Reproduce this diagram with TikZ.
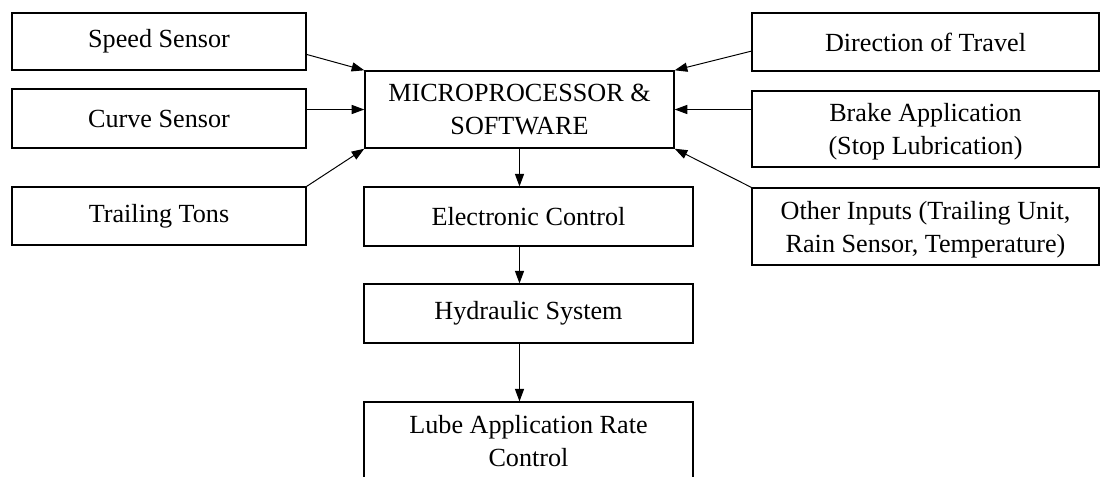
\documentclass[tikz,border=0pt]{standalone}
\usepackage{fontspec}
\setmainfont{Liberation Serif}
\usepackage{tikz}
\usetikzlibrary{positioning, arrows.meta, calc}

\begin{document}
\begin{tikzpicture}[
  x=0.025cm, y=-0.025cm,
  box/.style={draw=black, line width=0.8pt, align=center, inner sep=0pt, font=\fontsize{18.6}{23.5}\selectfont},
  twoline/.style={text depth=0pt},
  inbox/.style={box, minimum width=294*0.025cm},
  outbox/.style={box, minimum width=329*0.025cm},
  rbox/.style={box, minimum width=347*0.025cm},
  arr/.style={-{Triangle[length=9pt,width=6.5pt]}, line width=0.7pt, black}
]
  \useasboundingbox (0,0) rectangle (1106,476);

  \node[inbox, minimum height=57*0.025cm] (speed) at (159,41.5) {Speed Sensor};
  \node[inbox, minimum height=59*0.025cm] (curve) at (159,118.5) {Curve Sensor};
  \node[inbox, minimum height=58*0.025cm] (tons) at (159,216) {Trailing Tons};

  \node[box, twoline, line width=1pt, minimum width=309*0.025cm, minimum height=77*0.025cm] (micro) at (519.5,109.5) {MICROPROCESSOR \&\\SOFTWARE};
  \node[outbox, minimum height=59*0.025cm] (elec) at (528.5,216.5) {Electronic Control};
  \node[outbox, minimum height=59*0.025cm] (hydr) at (528.5,313.5) {Hydraulic System};
  \node[outbox, twoline, minimum height=78*0.025cm] (lube) at (528.5,441) {Lube Application Rate\\Control};

  \node[rbox, minimum height=58*0.025cm] (dir) at (925.5,42) {Direction of Travel};
  \node[rbox, twoline, minimum height=76*0.025cm] (brake) at (925.5,129) {Brake Application\\(Stop Lubrication)};
  \node[rbox, twoline, minimum height=77*0.025cm] (other) at (925.5,226.5) {Other Inputs (Trailing Unit,\\Rain Sensor, Temperature)};

  \draw[arr] (speed.-5) -- (micro.north west);
  \draw[arr] (micro.west -| curve.east) -- (micro.west);
  \draw[arr] (tons.north east) -- (micro.south west);
  \draw[arr] (dir.183) -- (micro.north east);
  \draw[arr] (micro.east -| brake.west) -- (micro.east);
  \draw[arr] (other.north west) -- (micro.south east);

  \draw[arr] (micro.south) -- (micro.south |- elec.north);
  \draw[arr] (micro.south |- elec.south) -- (micro.south |- hydr.north);
  \draw[arr] (micro.south |- hydr.south) -- (micro.south |- lube.north);
\end{tikzpicture}
\end{document}
